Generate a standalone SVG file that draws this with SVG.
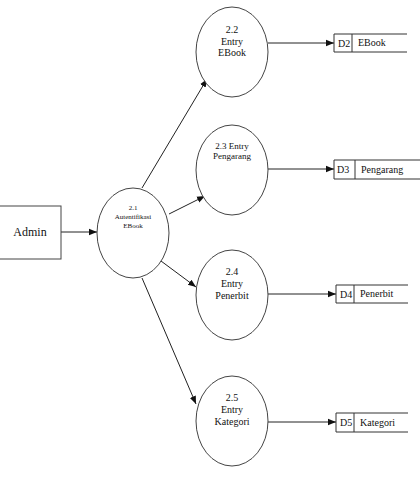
<svg xmlns="http://www.w3.org/2000/svg" width="420" height="496" viewBox="0 0 420 496">
<defs>
<marker id="ah" viewBox="0 0 10 10" refX="10" refY="5" markerWidth="8" markerHeight="8" markerUnits="userSpaceOnUse" orient="auto">
<path d="M0,1 L10,5 L0,9 z" fill="#111"/>
</marker>
<style>
.shape{fill:#fff;stroke:#444;stroke-width:1}
.ln{fill:none;stroke:#333;stroke-width:1}
.con{fill:none;stroke:#222;stroke-width:1;marker-end:url(#ah)}
text{font-family:"Liberation Serif","Times New Roman",serif;fill:#111}
.c{text-anchor:middle}
.t7{font-size:7px}
.t9{font-size:9px}
.t10{font-size:10px}
.t12{font-size:12px}
</style>
</defs>
<rect width="420" height="496" fill="#fff"/>

<g id="connectors">
<line class="con" x1="61" y1="232" x2="97" y2="232"/>
<line class="con" x1="142" y1="188" x2="207" y2="79"/>
<line class="con" x1="169" y1="214" x2="205" y2="196"/>
<line class="con" x1="161" y1="261" x2="196" y2="287"/>
<line class="con" x1="142" y1="278" x2="196" y2="404"/>
<line class="con" x1="268" y1="43" x2="334" y2="43"/>
<line class="con" x1="268" y1="169" x2="334" y2="169"/>
<line class="con" x1="268" y1="294" x2="336" y2="294"/>
<line class="con" x1="268" y1="422" x2="336" y2="422"/>
</g>

<g id="admin">
<rect class="shape" x="-2" y="206" width="63" height="53"/>
<text class="t12 c" x="30" y="236">Admin</text>
</g>

<g id="p21">
<ellipse class="shape" cx="133" cy="233" rx="36" ry="45"/>
<text class="t7 c" x="133" y="210">2.1</text>
<text class="t7 c" x="133" y="219">Autentifikasi</text>
<text class="t7 c" x="133" y="228">EBook</text>
</g>

<g id="p22">
<ellipse class="shape" cx="232" cy="52" rx="36" ry="45"/>
<text class="t10 c" x="232" y="33">2.2</text>
<text class="t10 c" x="232" y="44.5">Entry</text>
<text class="t10 c" x="232" y="56">EBook</text>
</g>

<g id="p23">
<ellipse class="shape" cx="232" cy="170" rx="36" ry="45"/>
<text class="t9 c" x="232" y="149">2.3 Entry</text>
<text class="t9 c" x="232" y="159">Pengarang</text>
</g>

<g id="p24">
<ellipse class="shape" cx="232" cy="295" rx="36" ry="45"/>
<text class="t10 c" x="232" y="275">2.4</text>
<text class="t10 c" x="232" y="287">Entry</text>
<text class="t10 c" x="232" y="299">Penerbit</text>
</g>

<g id="p25">
<ellipse class="shape" cx="232" cy="421" rx="36" ry="45"/>
<text class="t10 c" x="232" y="401">2.5</text>
<text class="t10 c" x="232" y="413">Entry</text>
<text class="t10 c" x="232" y="425">Kategori</text>
</g>

<g id="d2">
<path class="ln" d="M407,34 H334 V52 H407 M352,34 V52"/>
<text class="t10" x="338" y="47">D2</text>
<text class="t10" x="358" y="46">EBook</text>
</g>

<g id="d3">
<path class="ln" d="M421,160 H334 V179 H421 M355,160 V179"/>
<text class="t10" x="337" y="173">D3</text>
<text class="t10" x="361" y="173">Pengarang</text>
</g>

<g id="d4">
<path class="ln" d="M408,285 H336 V303 H408 M354,285 V303"/>
<text class="t10" x="340" y="298">D4</text>
<text class="t10" x="360" y="297">Penerbit</text>
</g>

<g id="d5">
<path class="ln" d="M408,413 H336 V432 H408 M354,413 V432"/>
<text class="t10" x="340" y="426">D5</text>
<text class="t10" x="360" y="426">Kategori</text>
</g>
</svg>
